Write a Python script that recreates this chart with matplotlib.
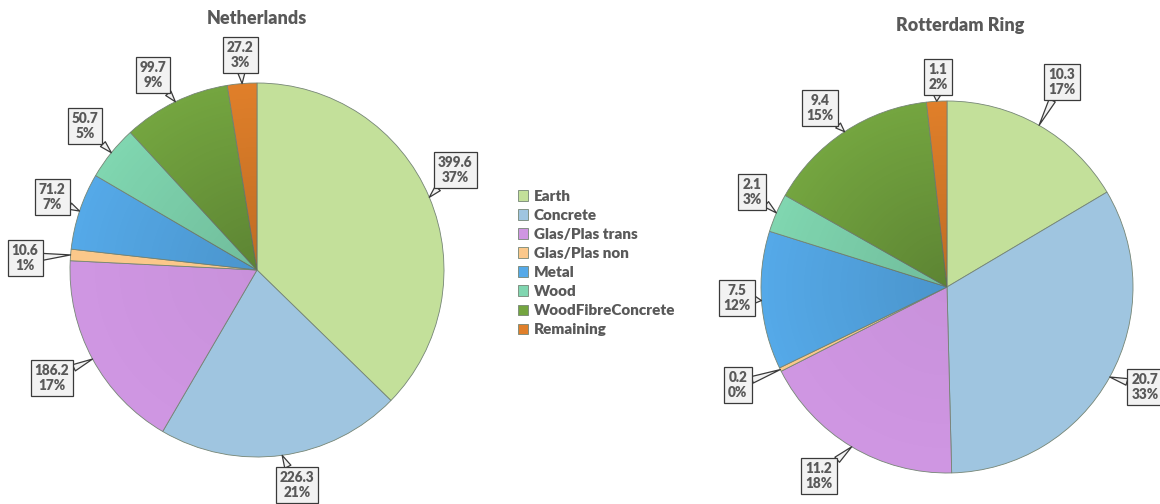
import numpy as np
import matplotlib.pyplot as plt

plt.rcParams['font.family'] = ['Lato', 'DejaVu Sans']

materials = ['Earth', 'Concrete', 'Glas/Plas trans', 'Glas/Plas non',
             'Metal', 'Wood', 'WoodFibreConcrete', 'Remaining']
netherlands = [399.6, 226.3, 186.2, 10.6, 71.2, 50.7, 99.7, 27.2]
netherlands_pct = [37, 21, 17, 1, 7, 5, 9, 3]
rotterdam = [10.3, 20.7, 11.2, 0.2, 7.5, 2.1, 9.4, 1.1]
rotterdam_pct = [17, 33, 18, 0, 12, 3, 15, 2]

colors = ['#c3e09a', '#9fc5e0', '#cf96e2', '#fbc88a',
          '#55a9e8', '#80d6b0', '#74a540', '#e07f2a']
# how much each slice darkens towards the centre
shade = [0.0, 0.0, 0.03, 0.0, 0.12, 0.12, 0.2, 0.15]

# label box centres, in units of the pie radius
nl_label_pos = [(1.06, 0.535), (0.214, -1.15), (-1.096, -0.578), (-1.24, 0.064),
                (-1.096, 0.39), (-0.92, 0.77), (-0.556, 1.043), (-0.09, 1.15)]
rr_label_pos = [(0.618, 1.102), (1.065, -0.538), (-0.688, -1.016), (-1.124, -0.527),
                (-1.129, -0.059), (-1.048, 0.511), (-0.683, 0.962), (-0.048, 1.129)]

txt_col = '#595959'
W, H = 1160, 504
fig = plt.figure(figsize=(W / 100, H / 100), dpi=100)

yy, xx = np.mgrid[-1:1:300j, -1:1:300j]
rr = np.clip(np.hypot(xx, yy), 0, 1)


def pie_axes(cx, cy, r):
    return fig.add_axes([(cx - r) / W, (H - cy - r) / H, 2 * r / W, 2 * r / H])


def draw_pie(ax, values, pcts, label_pos, title, title_xy):
    wedges, _ = ax.pie(values, colors=colors, startangle=90, counterclock=False,
                       radius=1.0,
                       wedgeprops=dict(edgecolor='#758575', linewidth=0.6))
    # darker towards the centre of each slice
    for w, s in zip(wedges, shade):
        if s == 0:
            continue
        rgba = np.zeros((300, 300, 4))
        rgba[..., 3] = s * (1 - rr)
        im = ax.imshow(rgba, extent=(-1, 1, -1, 1), origin='lower',
                       interpolation='bilinear', zorder=w.get_zorder() + 0.1)
        im.set_clip_path(w)
    ax.set_xlim(-1, 1)
    ax.set_ylim(-1, 1)
    ax.set_aspect('equal')
    ax.axis('off')
    for w, v, p, (lx, ly) in zip(wedges, values, pcts, label_pos):
        ang = np.deg2rad((w.theta1 + w.theta2) / 2)
        px, py = np.cos(ang), np.sin(ang)
        ax.annotate(f'{v:g}\n{p}%', xy=(px, py),
                    xytext=(lx, ly), ha='center', va='center',
                    fontsize=9.8, fontweight='heavy', color=txt_col,
                    linespacing=1.15, annotation_clip=False, zorder=5,
                    bbox=dict(boxstyle='square,pad=0.3', fc='#f2f2f2',
                              ec='#3a3a3a', lw=0.9),
                    arrowprops=dict(arrowstyle='wedge,tail_width=0.5',
                                    fc='#f2f2f2', ec='#3a3a3a', lw=0.9,
                                    shrinkA=0, shrinkB=0))
    fig.text(title_xy[0] / W, 1 - title_xy[1] / H, title, ha='center',
             va='center', fontsize=13, fontweight='heavy', color=txt_col)
    return wedges


ax1 = pie_axes(257, 270, 187)
wedges = draw_pie(ax1, netherlands, netherlands_pct, nl_label_pos,
                  'Netherlands', (257, 18))

ax2 = pie_axes(947, 287, 186)
draw_pie(ax2, rotterdam, rotterdam_pct, rr_label_pos, 'Rotterdam Ring', (960, 26))

leg = fig.legend(wedges, materials, loc='center left',
                 bbox_to_anchor=(504 / W, 1 - 263 / H), frameon=False,
                 handlelength=0.7, handleheight=0.7, handletextpad=0.35,
                 labelspacing=0.4, prop=dict(size=11, weight='heavy'))
for t in leg.get_texts():
    t.set_color(txt_col)

fig.savefig('out.png', dpi=100)
